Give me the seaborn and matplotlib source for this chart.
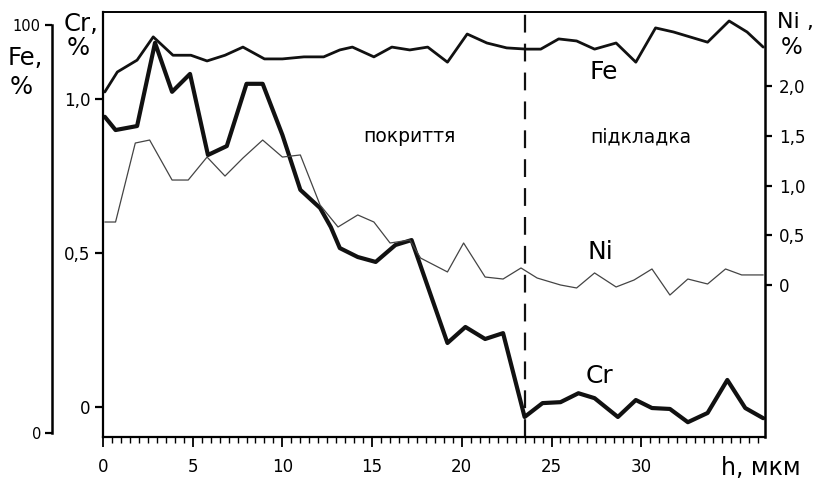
import numpy as np
import pandas as pd
import matplotlib
matplotlib.use("Agg")
import matplotlib.pyplot as plt
from matplotlib.ticker import MultipleLocator
import seaborn as sns

# ---------------- data ----------------
h_fe = [0.1, 0.8, 1.9, 2.8, 3.9, 4.9, 5.8, 6.8, 7.8, 9.0, 10.0, 11.2, 12.3, 13.2, 13.9, 15.1, 16.1, 17.1,
        18.1, 19.2, 20.3, 21.4, 22.5, 23.6, 24.4, 25.4, 26.4, 27.4, 28.6, 29.7, 30.8, 31.8, 33.7, 34.9, 35.9, 36.8]
fe = [83.6, 88.5, 91.4, 97.1, 92.6, 92.6, 91.2, 92.6, 94.6, 91.7, 91.7, 92.2, 92.2, 93.9, 94.6, 92.2, 94.6, 93.9,
      94.6, 90.9, 97.8, 95.6, 94.4, 94.1, 94.1, 96.6, 96.1, 94.1, 95.6, 90.9, 99.3, 98.3, 95.8, 101.0, 98.3, 94.6]

h_cr = [0.1, 0.7, 1.9, 2.9, 3.85, 4.85, 5.85, 6.9, 8.0, 8.9, 10.0, 11.0, 12.1, 12.7, 13.2, 14.2, 15.2, 16.3, 17.2,
        19.2, 20.2, 21.3, 22.3, 23.5, 24.5, 25.5, 26.5, 27.4, 28.7, 29.7, 30.6, 31.6, 32.6, 33.7, 34.8, 35.8, 36.8]
cr = [0.942, 0.899, 0.912, 1.182, 1.023, 1.081, 0.818, 0.847, 1.049, 1.049, 0.883, 0.705, 0.646, 0.584, 0.516,
      0.487, 0.471, 0.526, 0.542, 0.208, 0.260, 0.221, 0.240, -0.032, 0.013, 0.016, 0.045, 0.029, -0.032, 0.023,
      -0.003, -0.006, -0.049, -0.019, 0.088, -0.003, -0.036]

h_ni = [0.1, 0.7, 1.8, 2.6, 3.85, 4.75, 5.8, 6.8, 7.8, 8.9, 10.0, 11.0, 12.1, 13.1, 14.2, 15.1, 16.0, 17.1, 17.7,
        19.2, 20.1, 21.3, 22.3, 23.3, 24.2, 25.5, 26.4, 27.4, 28.6, 29.6, 30.6, 31.6, 32.6, 33.7, 34.7, 35.6, 36.8]
ni = [0.633, 0.633, 1.427, 1.457, 1.055, 1.055, 1.286, 1.095, 1.276, 1.457, 1.286, 1.307, 0.804, 0.583, 0.704,
      0.633, 0.422, 0.452, 0.271, 0.131, 0.422, 0.080, 0.060, 0.171, 0.070, 0.0, -0.030, 0.121, -0.020, 0.050,
      0.161, -0.101, 0.060, 0.010, 0.161, 0.101, 0.101]

boundary = 23.5
x_ticks = [0, 5, 10, 15, 20, 25, 30]
cr_ticks = [0, 0.5, 1.0]
cr_ticklabels = ["0", "0,5", "1,0"]
fe_ticks = [0, 100]
fe_ticklabels = ["0", "100"]
ni_ticks = [0, 0.5, 1.0, 1.5, 2.0]
ni_ticklabels = ["0", "0,5", "1,0", "1,5", "2,0"]

df_fe = pd.DataFrame({"h": h_fe, "v": fe})
df_cr = pd.DataFrame({"h": h_cr, "v": cr})
df_ni = pd.DataFrame({"h": h_ni, "v": ni})

# ---------------- style ----------------
sns.set_style("ticks")
plt.rcParams["font.family"] = ["DejaVu Sans"]
plt.rcParams["axes.linewidth"] = 1.6
for k in ["text.color", "axes.labelcolor", "xtick.color", "ytick.color", "axes.edgecolor"]:
    plt.rcParams[k] = "black"

W, H = 816, 484
fig = plt.figure(figsize=(W / 100, H / 100), dpi=100)
L, R, T, B = 103, 765, 12, 437
ax = fig.add_axes([L / W, 1 - B / H, (R - L) / W, (B - T) / H])

# Cr (main axis)
sns.lineplot(data=df_cr, x="h", y="v", ax=ax, color="#111111", lw=3.0, estimator=None, sort=False)
ax.set_xlim(0, 36.9)
ax.set_ylim(-0.097, 1.282)
ax.set_yticks(cr_ticks)
ax.set_yticklabels(cr_ticklabels, fontsize=12)
ax.set_xticks(x_ticks)
ax.set_xticklabels([str(t) for t in x_ticks], fontsize=12)
ax.xaxis.set_minor_locator(MultipleLocator(0.5))
ax.tick_params(axis="x", which="major", length=7, width=1.3, pad=8, direction="out")
ax.tick_params(axis="x", which="minor", length=4, width=1.0, direction="out")
ax.tick_params(axis="y", length=6, width=1.6, pad=3)
ax.set_xlabel("")
ax.set_ylabel("")
ax.spines["right"].set_visible(False)
ax.spines["top"].set_visible(True)
ax.spines["top"].set_linewidth(1.4)
ax.axvline(boundary, color="#111111", lw=1.6, ls=(0, (8, 5)))

# Fe axis (offset left)
axFe = ax.twinx()
sns.lineplot(data=df_fe, x="h", y="v", ax=axFe, color="#111111", lw=2.0, estimator=None, sort=False)
axFe.set_ylim(-0.98, 103.2)
axFe.yaxis.set_ticks_position("left")
axFe.yaxis.set_label_position("left")
for s in ["right", "top", "bottom"]:
    axFe.spines[s].set_visible(False)
axFe.spines["left"].set_visible(True)
axFe.spines["left"].set_position(("outward", 36.7))
axFe.spines["left"].set_bounds(0, 100)
axFe.spines["left"].set_linewidth(1.8)
axFe.set_yticks(fe_ticks)
axFe.set_yticklabels(fe_ticklabels, fontsize=10.5)
axFe.tick_params(axis="y", length=5, width=1.6, pad=3)
axFe.set_ylabel("")

# Ni axis (right)
axNi = ax.twinx()
sns.lineplot(data=df_ni, x="h", y="v", ax=axNi, color="#444444", lw=0.9, estimator=None, sort=False)
axNi.set_ylim(-1.528, 2.744)
for s in ["left", "top", "bottom"]:
    axNi.spines[s].set_visible(False)
axNi.spines["right"].set_linewidth(1.8)
axNi.set_yticks(ni_ticks)
axNi.set_yticklabels(ni_ticklabels, fontsize=12)
axNi.tick_params(axis="y", length=5, width=1.6, pad=5)
axNi.set_ylabel("")
axNi.set_xlim(0, 36.9)

# ---------------- text ----------------
def ftext(x, y, s, **kw):
    fig.text(x / W, 1 - y / H, s, **kw)

ftext(64, 24, "Cr,", fontsize=17.5, ha="left", va="center")
ftext(67, 48, "%", fontsize=17.5, ha="left", va="center")
ftext(8, 58, "Fe,", fontsize=17.5, ha="left", va="center")
ftext(10, 87, "%", fontsize=17.5, ha="left", va="center")
ftext(777, 22, "Ni ,", fontsize=16, ha="left", va="center")
ftext(781, 47, "%", fontsize=16.5, ha="left", va="center")
ftext(761, 468, "h, мкм", fontsize=17, ha="center", va="center")

ax.text(17.1, 0.877, "покриття", fontsize=13.5, ha="center", va="center")
ax.text(29.95, 0.877, "підкладка", fontsize=13.5, ha="center", va="center")
ax.text(27.9, 1.088, "Fe", fontsize=18, ha="center", va="center")
ax.text(27.7, 0.503, "Ni", fontsize=18, ha="center", va="center")
ax.text(27.7, 0.10, "Cr", fontsize=18, ha="center", va="center")

fig.savefig("out.png", dpi=100)
